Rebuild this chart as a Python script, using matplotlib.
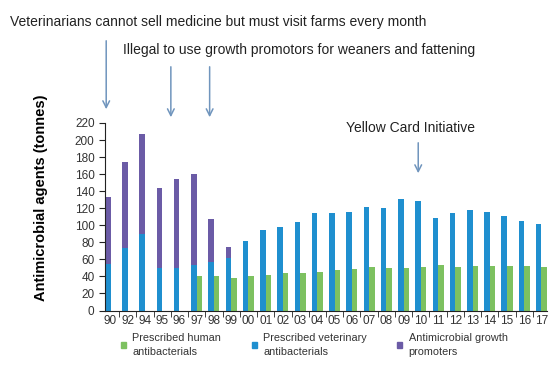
import numpy as np
import matplotlib.pyplot as plt
from matplotlib.patches import Patch

plt.rcParams['font.family'] = ['Liberation Sans', 'DejaVu Sans']

years = ['90', '92', '94', '95', '96', '97', '98', '99', '00', '01', '02', '03', '04',
         '05', '06', '07', '08', '09', '10', '11', '12', '13', '14', '15', '16', '17']

# tonnes (nan = no bar that year)
human = [np.nan, np.nan, np.nan, np.nan, np.nan, 40, 41, 38.5, 40, 42, 43.5, 44, 45.5,
         47, 48.5, 50.5, 50, 50, 51.5, 53.5, 51.5, 52.5, 52.5, 52.5, 52.5, 50.5]
veterinary = [54, 73, 90, 50, 50, 53, 57, 62, 81, 95, 98, 104, 114,
              114, 116, 121, 120, 131, 129, 109, 114, 118, 115, 110.5, 105.5, 102]
growth_promoters = [79, 101, 117, 94, 104, 107, 50, 12, 0, 0, 0, 0, 0,
                    0, 0, 0, 0, 0, 0, 0, 0, 0, 0, 0, 0, 0]

green = '#7dc160'
blue = '#1f8fcf'
purple = '#6b5ba6'
arrow_col = '#7095bd'

x = np.arange(len(years))
w = 0.32

fig = plt.figure(figsize=(5.56, 3.69), dpi=100)
ax = fig.add_axes([105 / 556, 58.5 / 369, 442 / 556, 187.5 / 369])

ax.bar(x - w / 2, veterinary, w, color=blue)
ax.bar(x - w / 2, growth_promoters, w, bottom=veterinary, color=purple)
ax.bar(x + w / 2, human, w, color=green)

ax.set_xlim(-w, len(years) - 1 + w)
ax.set_ylim(0, 220)
ax.set_yticks(np.arange(0, 221, 20))
ax.set_xticks(x)
ax.set_xticklabels(years)
ax.set_xticks(x[:-1] + 0.5, minor=True)
ax.tick_params(axis='x', which='major', length=0, pad=3, labelsize=8.5, colors='#333333')
ax.tick_params(axis='x', which='minor', length=4, color='#222222')
ax.tick_params(axis='y', length=4, labelsize=8.5, colors='#333333')
ax.tick_params(axis='y', color='#222222')
for side in ['top', 'right']:
    ax.spines[side].set_visible(False)
ax.spines['left'].set_color('#222222')
ax.spines['bottom'].set_color('#222222')

ax.set_ylabel('Antimicrobial agents (tonnes)', fontsize=10.5, fontweight='bold')
ax.yaxis.set_label_coords(-0.128, 0.6)

# policy annotations
fig.text(10 / 556, 1 - 22 / 369, 'Veterinarians cannot sell medicine but must visit farms every month',
         fontsize=10, color='#222222', va='center', ha='left')
fig.text(123 / 556, 1 - 50 / 369, 'Illegal to use growth promotors for weaners and fattening',
         fontsize=10, color='#222222', va='center', ha='left')
fig.text(410 / 556, 1 - 128 / 369, 'Yellow Card Initiative',
         fontsize=10, color='#222222', va='center', ha='center')

arrows = [(-0.25, 38, 112), (3.5, 64, 120), (5.75, 64, 120), (17.85, 140, 176)]
for ax_x, y0, y1 in arrows:
    ax.annotate('', xy=(ax_x, 1 - y1 / 369), xytext=(ax_x, 1 - y0 / 369),
                xycoords=('data', 'figure fraction'), textcoords=('data', 'figure fraction'),
                arrowprops=dict(arrowstyle='->', color=arrow_col, lw=1.1, mutation_scale=12),
                annotation_clip=False)

handles = [Patch(color=green), Patch(color=blue), Patch(color=purple)]
labels = ['Prescribed human\nantibacterials', 'Prescribed veterinary\nantibacterials',
          'Antimicrobial growth\npromoters']
leg = fig.legend(handles, labels, loc='upper left', bbox_to_anchor=(121 / 556, 1 - 333 / 369),
                 ncol=3, frameon=False, fontsize=7.8, handlelength=0.46, handleheight=0.46,
                 handletextpad=0.6, columnspacing=2.8, borderpad=0, borderaxespad=0,
                 labelcolor='#333333')
for t in leg.get_texts():
    t.set_linespacing(1.45)

fig.savefig('out.png', dpi=100)
